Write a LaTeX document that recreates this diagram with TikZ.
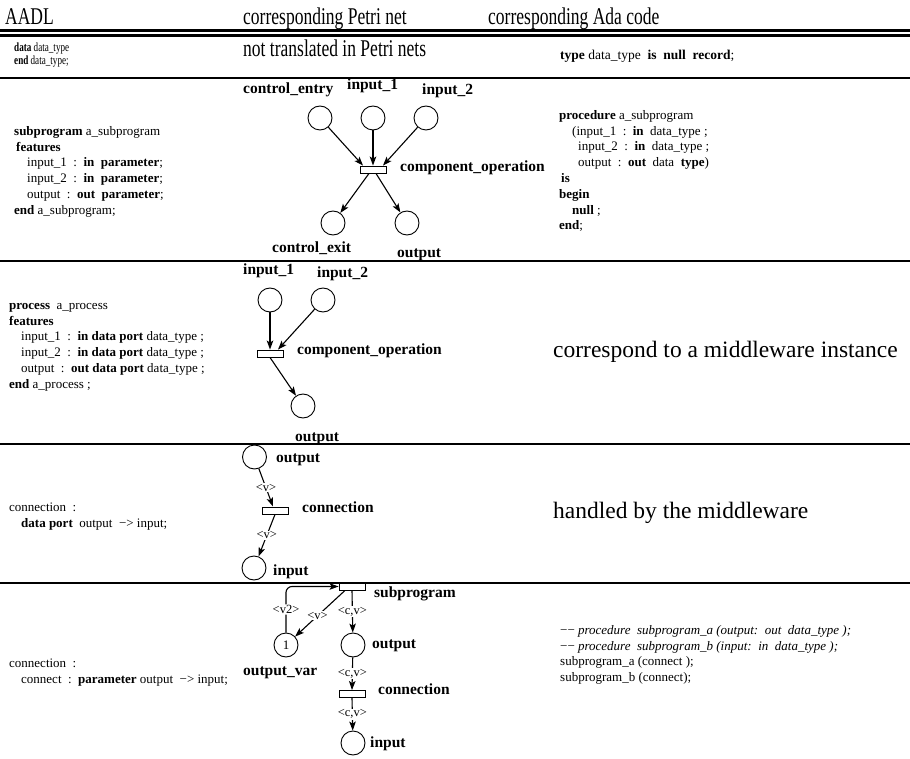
\documentclass[tikz,border=0pt]{standalone}
\usepackage{fontspec}
\setmainfont{Liberation Serif}
\newfontfamily\headfont[FakeStretch=0.73]{Liberation Serif}
\usetikzlibrary{arrows.meta}
\tikzstyle{place}=[circle, draw, line width=0.9pt, minimum size=24pt, inner sep=0pt]
\tikzstyle{transition}=[rectangle, draw, line width=0.9pt, fill=white, minimum width=26pt, minimum height=7pt, inner sep=0pt]
\tikzstyle{flow}=[-{Stealth[length=9pt,width=6.5pt,inset=2pt]}, line width=1.1pt]
\tikzstyle{netlabel}=[font=\fontsize{15.5}{18}\selectfont\bfseries, anchor=base west, inner sep=0pt]
\tikzstyle{inscr}=[font=\fontsize{12.5}{14}\selectfont, fill=white, inner sep=1pt]
\tikzstyle{code}=[font=\fontsize{13}{15.8}\selectfont, align=left, anchor=north west, inner sep=0pt]
\tikzstyle{headtxt}=[font=\fontsize{24}{28}\headfont, anchor=base west, inner sep=0pt]
\tikzstyle{bigtxt}=[font=\fontsize{23.5}{28}\selectfont, anchor=base west, inner sep=0pt]
\tikzstyle{hrule}=[line width=2.2pt]

\begin{document}
\begin{tikzpicture}[x=1pt, y=-1pt]
	\useasboundingbox (0,0) rectangle (910,759);

	\node(h1)[headtxt] at (5,25) {AADL};
	\node(h2)[headtxt] at (243,25) {corresponding Petri net};
	\node(h3)[headtxt] at (488,25) {corresponding Ada code};
	\draw[hrule] (0,30.5) -- (910,30.5);
	\draw[hrule] (0,35.5) -- (910,35.5);
	\draw[hrule] (0,78) -- (910,78);
	\draw[hrule] (0,261) -- (910,261);
	\draw[hrule] (0,444) -- (910,444);
	\draw[hrule] (0,583) -- (910,583);

	% data type
	\node(dt)[code, font=\fontsize{12.5}{12.5}\headfont] at (14,43) {\textbf{data} data\_type\\ \textbf{end} data\_type;};
	\node(nt)[headtxt] at (243,57) {not translated in Petri nets};
	\node(td)[code, font=\fontsize{13.5}{14}\selectfont] at (560,50) {\textbf{type} data\_type~~\textbf{is}~~\textbf{null}~~\textbf{record};};

	% subprogram
	\node(sp)[code] at (14,126) {\textbf{subprogram} a\_subprogram\\
		\hspace*{2pt}\textbf{features}\\
		\hspace*{13pt}input\_1~~:~~\textbf{in}~~\textbf{parameter};\\
		\hspace*{13pt}input\_2~~:~~\textbf{in}~~\textbf{parameter};\\
		\hspace*{13pt}output~~:~~\textbf{out}~~\textbf{parameter};\\
		\textbf{end} a\_subprogram;};
	\node(ce)[place] at (320,118) {};
	\node(ia)[place] at (373,118) {};
	\node(ib)[place] at (426,118) {};
	\node(op)[transition] at (373,169.5) {};
	\node(cx)[place] at (333,223) {};
	\node(ou)[place] at (407,223) {};
	\node(cel)[netlabel] at (243,94) {control\_entry};
	\node(ial)[netlabel] at (347,90) {input\_1};
	\node(ibl)[netlabel] at (422,95) {input\_2};
	\node(opl)[netlabel] at (400,172) {component\_operation};
	\node(cxl)[netlabel] at (272,253) {control\_exit};
	\node(oul)[netlabel] at (397,258) {output};
	\draw[flow] (ce) -- ([xshift=-10pt]op.north);
	\draw[flow] (ia) -- (op.north);
	\draw[flow] (ib) -- ([xshift=10pt]op.north);
	\draw[flow] ([xshift=-4pt]op.south) -- (cx);
	\draw[flow] ([xshift=3pt]op.south) -- (ou);
	\node(pr)[code] at (559,110) {\textbf{procedure} a\_subprogram\\
		\hspace*{13pt}(input\_1~~:~~\textbf{in}~~data\_type~;\\
		\hspace*{19pt}input\_2~~:~~\textbf{in}~~data\_type~;\\
		\hspace*{19pt}output~~:~~\textbf{out}~~data~~\textbf{type})\\
		\hspace*{2pt}\textbf{is}\\
		\textbf{begin}\\
		\hspace*{13pt}\textbf{null}~;\\
		\textbf{end};};

	% process
	\node(pc)[code] at (9,303) {\textbf{process}~~a\_process\\
		\textbf{features}\\
		\hspace*{12pt}input\_1~~:~~\textbf{in data port}~data\_type~;\\
		\hspace*{12pt}input\_2~~:~~\textbf{in data port}~data\_type~;\\
		\hspace*{12pt}output~~:~~\textbf{out data port}~data\_type~;\\
		\textbf{end} a\_process~;};
	\node(pa)[place] at (270,300) {};
	\node(pb)[place] at (323,300) {};
	\node(pt)[transition] at (270,353.5) {};
	\node(po)[place] at (303,406) {};
	\node(pal)[netlabel] at (243,275) {input\_1};
	\node(pbl)[netlabel] at (317,278) {input\_2};
	\node(ptl)[netlabel] at (297,354) {component\_operation};
	\node(pol)[netlabel] at (295,441) {output};
	\draw[flow] (pa) -- (pt.north);
	\draw[flow] (pb) -- ([xshift=8pt]pt.north);
	\draw[flow] (pt.south) -- (po);
	\node(mw)[bigtxt] at (553,357) {correspond to a middleware instance};

	% data port connection
	\node(cn)[code] at (9,503) {connection~~:\\
		\hspace*{12pt}\textbf{data port}~~output~~−>~input;};
	\node(co)[place] at (254.5,457) {};
	\node(ct)[transition] at (275,510.5) {};
	\node(ci)[place] at (254,568) {};
	\node(col)[netlabel] at (276,462) {output};
	\node(ctl)[netlabel] at (302,512) {connection};
	\node(cil)[netlabel] at (273,575) {input};
	\draw[flow] (co) -- node[inscr]{<v>} ([xshift=-2pt]ct.north);
	\draw[flow] (ct.south) -- node[inscr]{<v>} (ci);
	\node(hm)[bigtxt] at (553,518) {handled by the middleware};

	% parameter connection
	\node(cc)[code] at (9,659) {connection~~:\\
		\hspace*{12pt}connect~~:~~\textbf{parameter}~output~~−>~input;};
	\node(sb)[transition] at (352,586.5) {};
	\node(ov)[place, font=\fontsize{13}{14}\selectfont] at (286,645) {1};
	\node(so)[place] at (353,645) {};
	\node(st)[transition] at (352,694) {};
	\node(si)[place] at (353,743) {};
	\node(sbl)[netlabel] at (374,597) {subprogram};
	\node(ovl)[netlabel] at (243,675) {output\_var};
	\node(sol)[netlabel] at (372,648) {output};
	\node(stl)[netlabel] at (378,694) {connection};
	\node(sil)[netlabel] at (370,747) {input};
	\draw[flow, rounded corners=6pt] (ov.north) |- node[inscr, pos=0.25]{<v2>} (sb.west);
	\draw[flow] ([xshift=-7pt]sb.south) -- node[inscr, pos=0.55]{<v>} (ov);
	\draw[flow] (sb.south) -- node[inscr]{<c,v>} (so);
	\draw[flow] (so) -- node[inscr]{<c,v>} (st.north);
	\draw[flow] (st.south) -- node[inscr]{<c,v>} (si);
	\node(ca)[code] at (560,625) {−−~\textit{procedure~~subprogram\_a~(output:~~out~~data\_type~);}\\
		−−~\textit{procedure~~subprogram\_b~(input:~~in~~data\_type~);}\\
		subprogram\_a~(connect~);\\
		subprogram\_b~(connect);};
\end{tikzpicture}
\end{document}
